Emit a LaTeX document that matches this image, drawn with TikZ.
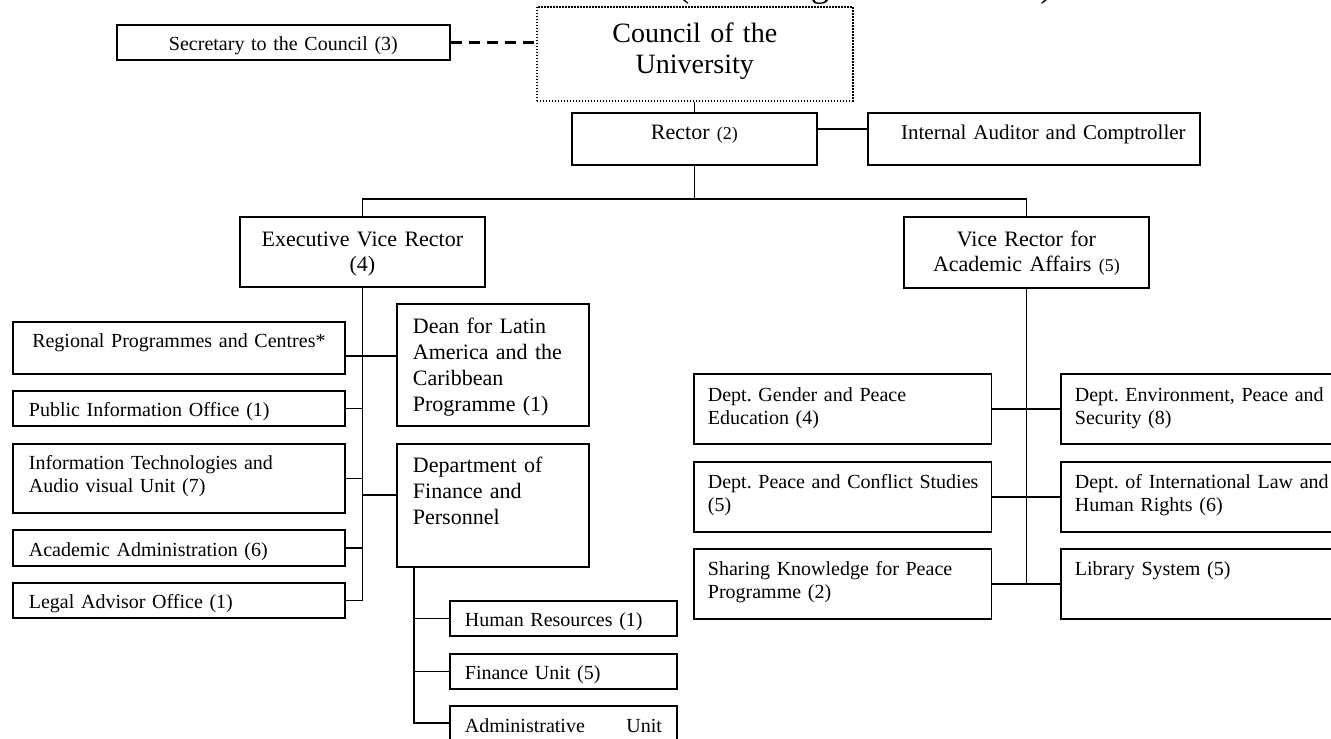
\documentclass[tikz,border=0pt]{standalone}
\usepackage{fontspec}
\setmainfont{Liberation Serif}
\frenchspacing
\hyphenpenalty=10000
\exhyphenpenalty=10000
\tikzset{
  bx/.style={draw, line width=1.8pt, anchor=north west, inner ysep=0pt, inner xsep=0pt, align=left},
  ctr/.style={align=center},
  sm/.style={font=\fontsize{20}{23}\selectfont},
  lg/.style={font=\fontsize{22}{25.7}\selectfont},
  ln/.style={line width=1.7pt, line join=miter},
  dashline/.style={line width=2.2pt, dash pattern=on 11pt off 7pt},
  dotbox/.style={bx, line width=1.5pt, dash pattern=on 1.5pt off 1.5pt},
}
\newcommand{\smallpar}[1]{{\fontsize{18}{20}\selectfont #1}}
\begin{document}
\begin{tikzpicture}[x=1pt,y=-1pt]
\useasboundingbox (0,0) rectangle (1331,739);
\clip (0,0) rectangle (1331,739);
\fill[white] (0,0) rectangle (1331,739);

% cut-off heading
\node[font=\fontsize{37}{40}\selectfont, anchor=base west, inner sep=0pt] (title) at (677,-4) {(including staff numbers)};

% top level
\node[bx, sm, ctr, text width=333pt, text height=26pt, text depth=9pt] (sec) at (116,24) {Secretary to the Council (3)};
\node[dotbox, ctr, font=\fontsize{28}{31}\selectfont, text width=316pt, text height=36pt, text depth=58pt] (council) at (536,6) {Council of the\\University};
\node[bx, ctr, font=\fontsize{22}{25}\selectfont, text width=245pt, text height=27pt, text depth=25pt] (rector) at (571,112) {Rector \smallpar{(2)}};
\node[bx, ctr, font=\fontsize{21}{24}\selectfont, text width=332pt, text height=27pt, text depth=25pt] (auditor) at (867,112) {\hspace*{19pt}Internal Auditor and Comptroller};

% vice rectors
\node[bx, ctr, font=\fontsize{22}{25}\selectfont, text width=245pt, text height=30pt, text depth=40pt] (evr) at (239,216) {Executive Vice Rector\\(4)};
\node[bx, ctr, font=\fontsize{22}{25}\selectfont, text width=245pt, text height=30pt, text depth=41pt] (vraa) at (903,216) {Vice Rector for\\Academic Affairs \smallpar{(5)}};

% executive vice rector branch (left)
\node[bx, sm, ctr, text width=332pt, text height=26pt, text depth=26pt] (reg) at (12,321) {Regional Programmes and Centres*};
\node[bx, sm, inner xsep=16pt, text width=300pt, text height=26pt, text depth=9pt] (pub) at (12,390) {Public Information Office (1)};
\node[bx, sm, inner xsep=16pt, text width=300pt, text height=26pt, text depth=43pt] (it) at (12,443) {Information Technologies and\\Audio visual Unit (7)};
\node[bx, sm, inner xsep=16pt, text width=300pt, text height=27pt, text depth=9pt] (acad) at (12,529) {Academic Administration (6)};
\node[bx, sm, inner xsep=16pt, text width=300pt, text height=26pt, text depth=9pt] (legal) at (12,582) {Legal Advisor Office (1)};

% executive vice rector branch (right)
\node[bx, lg, inner xsep=16pt, text width=160pt, text height=30pt, text depth=92pt] (dean) at (396,303) {Dean for Latin\\America and the\\Caribbean\\Programme (1)};
\node[bx, lg, inner xsep=16pt, text width=160pt, text height=29pt, text depth=94pt] (dfp) at (396,443) {Department of\\Finance and\\Personnel};
\node[bx, sm, inner xsep=15pt, text width=197pt, text height=26pt, text depth=9pt] (hr) at (449,600) {Human Resources (1)};
\node[bx, sm, inner xsep=15pt, text width=197pt, text height=26pt, text depth=9pt] (fin) at (449,653) {Finance Unit (5)};
\node[bx, sm, inner xsep=15pt, text width=197pt, text height=27pt, text depth=18pt] (adm) at (449,705) {Administrative\hfill Unit};

% academic affairs branch
\node[bx, sm, inner xsep=14pt, text width=269.5pt, text height=28pt, text depth=42pt] (gen) at (693,373) {Dept. Gender and Peace\\Education (4)};
\node[bx, sm, inner xsep=14pt, text width=257pt, text height=28pt, text depth=42pt] (env) at (1060,373) {\mbox{Dept. Environment, Peace and}\\Security (8)};
\node[bx, sm, inner xsep=14pt, text width=269.5pt, text height=27pt, text depth=43pt] (pcs) at (693,461) {\mbox{Dept. Peace and Conflict Studies}\\(5)};
\node[bx, sm, inner xsep=14pt, text width=257pt, text height=27pt, text depth=43pt] (ilh) at (1060,461) {\mbox{Dept. of International Law and}\\Human Rights (6)};
\node[bx, sm, inner xsep=14pt, text width=269.5pt, text height=27pt, text depth=43pt] (skp) at (693,548) {Sharing Knowledge for Peace\\Programme (2)};
\node[bx, sm, inner xsep=14pt, text width=257pt, text height=27pt, text depth=43pt] (lib) at (1060,548) {Library System (5)};

% connectors: top
\draw[dashline] (sec.east) -- (sec.east -| council.west);
\draw[ln] (rector.north |- council.south) -- (rector.north);
\draw[ln] (rector.east |- 0,129) -- (auditor.west |- 0,129);
\draw[ln] (rector.south) -- (rector.south |- 0,199);
\draw[ln] (evr.north) -- (evr.north |- 0,199) -- (vraa.north |- 0,199) -- (vraa.north);

% connectors: executive vice rector
\draw[ln] (evr.south) -- (evr.south |- legal.east) -- (legal.east);
\draw[ln] (reg.east |- 0,356) -- (dean.west |- 0,356);
\draw[ln] (pub.east) -- (pub.east -| evr.south);
\draw[ln] (it.east) -- (it.east -| evr.south);
\draw[ln] (evr.south |- 0,495) -- (dfp.west |- 0,495);
\draw[ln] (acad.east) -- (acad.east -| evr.south);

% connectors: finance and personnel
\coordinate (dft) at ([xshift=18pt]dfp.south west);
\draw[ln] (dft) -- (dft |- 0,723) -- (adm.west |- 0,723);
\draw[ln] (hr.west) -- (hr.west -| dft);
\draw[ln] (fin.west) -- (fin.west -| dft);

% connectors: academic affairs
\draw[ln] (vraa.south) -- (vraa.south |- skp.east);
\draw[ln] (gen.east) -- (env.west);
\draw[ln] (pcs.east) -- (ilh.west);
\draw[ln] (skp.east) -- (lib.west);
\end{tikzpicture}
\end{document}
